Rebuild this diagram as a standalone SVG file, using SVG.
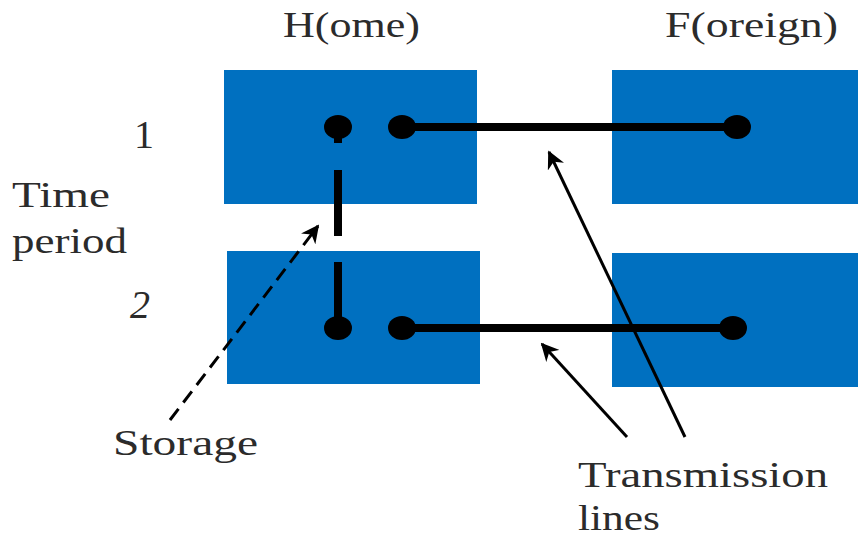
<svg xmlns="http://www.w3.org/2000/svg" width="861" height="545" viewBox="0 0 861 545">
<defs>
<style>
.box{fill:#0070C0}
.t{font-family:"Liberation Serif","Times New Roman",serif;font-size:36px;fill:#2b2b2b}
.n{font-size:40px}
.wire{stroke:#000;stroke-width:8;fill:none}
.dot{fill:#000}
.ptr{stroke:#000;stroke-width:3;fill:none}
</style>
<marker id="ah" viewBox="0 0 10 10" refX="9" refY="5" markerWidth="6" markerHeight="6" orient="auto" markerUnits="strokeWidth">
<path d="M0,0 L10,5 L0,10 L3,5 Z" fill="#000"/>
</marker>
</defs>
<g id="labels">
<text class="t" x="283" y="37" textLength="137" lengthAdjust="spacingAndGlyphs">H(ome)</text>
<text class="t" x="665" y="37" textLength="173" lengthAdjust="spacingAndGlyphs">F(oreign)</text>
<text class="t n" x="134" y="148">1</text>
<text class="t n" x="130" y="318" font-style="italic">2</text>
<text class="t" x="12" y="207" textLength="98" lengthAdjust="spacingAndGlyphs">Time</text>
<text class="t" x="12" y="253" textLength="115" lengthAdjust="spacingAndGlyphs">period</text>
<text class="t" x="113" y="455" textLength="145" lengthAdjust="spacingAndGlyphs">Storage</text>
<text class="t" x="578" y="487" textLength="250" lengthAdjust="spacingAndGlyphs">Transmission</text>
<text class="t" x="578" y="530" textLength="82" lengthAdjust="spacingAndGlyphs">lines</text>
</g>
<g id="home1"><rect class="box" x="224" y="70" width="253" height="134"/></g>
<g id="home2"><rect class="box" x="227" y="251" width="253" height="133"/></g>
<g id="foreign1"><rect class="box" x="612" y="70" width="246" height="134"/></g>
<g id="foreign2"><rect class="box" x="612" y="253" width="246" height="134"/></g>
<g id="connectors">
<line class="wire" x1="402" y1="127" x2="737" y2="127"/>
<line class="wire" x1="402" y1="328" x2="733" y2="328"/>
<line class="wire" x1="338" y1="127" x2="338" y2="143"/>
<line class="wire" x1="338" y1="170" x2="338" y2="236"/>
<line class="wire" x1="338" y1="262" x2="338" y2="328"/>
<ellipse class="dot" cx="338" cy="127" rx="14" ry="12"/>
<ellipse class="dot" cx="402" cy="127" rx="14" ry="12"/>
<ellipse class="dot" cx="737" cy="127" rx="14" ry="12"/>
<ellipse class="dot" cx="338" cy="328" rx="14" ry="12"/>
<ellipse class="dot" cx="402" cy="328" rx="14" ry="12"/>
<ellipse class="dot" cx="733" cy="328" rx="14" ry="12"/>
<line class="ptr" x1="170" y1="420" x2="318" y2="226" stroke-dasharray="14,8" marker-end="url(#ah)"/>
<line class="ptr" x1="685" y1="437" x2="549" y2="152" marker-end="url(#ah)"/>
<line class="ptr" x1="627" y1="437" x2="542" y2="344" marker-end="url(#ah)"/>
</g>
</svg>
